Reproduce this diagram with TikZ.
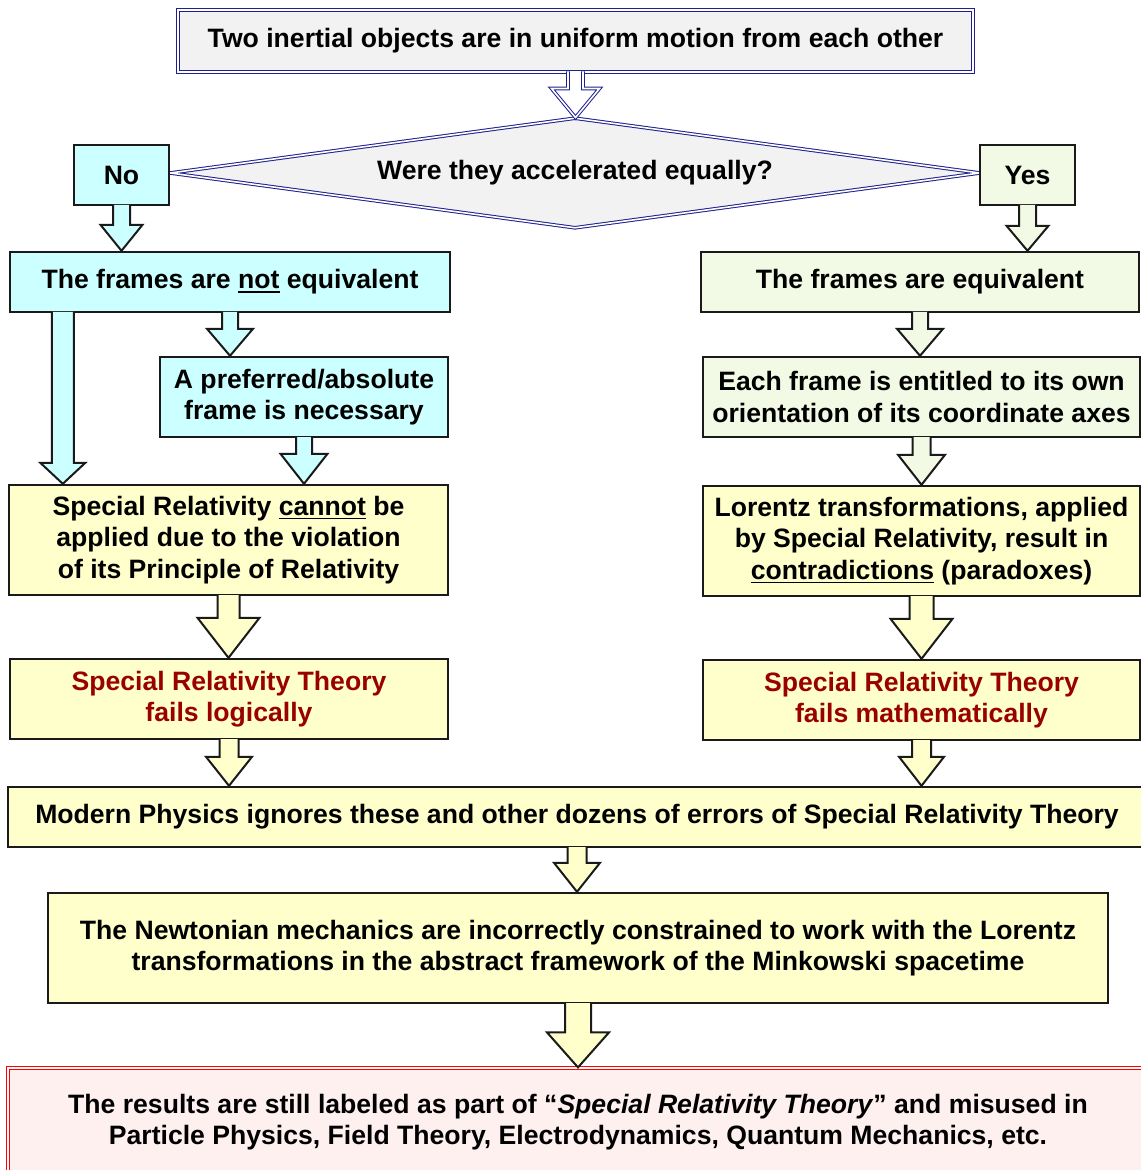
\documentclass[tikz,border=0pt]{standalone}
\usepackage{fontspec}
\setmainfont{Liberation Sans}
\usetikzlibrary{shapes.geometric,calc}

\definecolor{boxcyan}{HTML}{CCFFFF}
\definecolor{boxgreen}{HTML}{F2F9E4}
\definecolor{boxyellow}{HTML}{FFFFCC}
\definecolor{boxpink}{HTML}{FFF0F0}
\definecolor{boxgray}{HTML}{F2F2F2}
\definecolor{darkline}{HTML}{1A1A1A}
\definecolor{navyline}{HTML}{1F1F8F}
\definecolor{failred}{HTML}{990000}

\tikzset{
  txt/.style={align=center, inner sep=0pt, font=\bfseries\fontsize{13.3}{15.75}\selectfont},
  box/.style={txt, rectangle, draw=darkline, line width=1.2pt},
  navybox/.style={txt, draw=navyline, line width=0.5pt, double=white, double distance=0.8pt, fill=boxgray},
  redbox/.style={txt, rectangle, draw=red, line width=0.6pt, double=white, double distance=1pt, fill=boxpink},
  arrowline/.style={draw=darkline, line width=1pt, line join=miter},
  navyarrow/.style={draw=navyline, line width=0.5pt, double=white, double distance=0.8pt, fill=white},
}

% thick underline for single words
\newcommand{\thickul}[1]{\leavevmode\vtop{\hbox{#1}\kern1pt\hrule height 0.9pt}}

% block arrow: [style]{from}{to}{half shaft}{half head}{head length}
\newcommand{\blockarrow}[6][]{%
  \draw[#1] let \p1=(#2), \p2=(#3) in
    (\x1-#4,\y1+0.6pt) -- (\x1-#4,\y2+#6) -- (\x1-#5,\y2+#6) -- (\x1,\y2)
    -- (\x1+#5,\y2+#6) -- (\x1+#4,\y2+#6) -- (\x1+#4,\y1+0.6pt);}

\begin{document}
\begin{tikzpicture}[x=0.5pt,y=-0.5pt]
  \useasboundingbox (0,0) rectangle (1140,1170);

  % Start and question
  \node[navybox, minimum width=397.5pt, minimum height=31pt] (start) at (575.5,41)
    {Two inertial objects are in uniform motion from each other};
  \node[navybox, diamond, shape aspect=7.36, minimum width=405pt, minimum height=55pt] (quest) at (575,173)
    {Were they accelerated equally?};
  \node[box, fill=boxcyan, minimum width=47.5pt, minimum height=30pt] (no) at (121.5,175) {No};
  \node[box, fill=boxgreen, minimum width=47.5pt, minimum height=30pt] (yes) at (1027.5,175) {Yes};

  % Left branch
  \node[box, fill=boxcyan, minimum width=220pt, minimum height=30pt] (notequiv) at (230,282)
    {The frames are \thickul{not} equivalent};
  \node[box, fill=boxcyan, minimum width=144pt, minimum height=40pt] (preferred) at (304,397)
    {A preferred/absolute\\frame is necessary};
  \node[box, fill=boxyellow, minimum width=219.5pt, minimum height=55pt] (cannot) at (228.5,540)
    {Special Relativity \thickul{cannot} be\\applied due to the violation\\of its Principle of Relativity};
  \node[box, fill=boxyellow, minimum width=219pt, minimum height=40pt, text=failred] (faillogic) at (229,699)
    {Special Relativity Theory\\fails logically};

  % Right branch
  \node[box, fill=boxgreen, minimum width=219pt, minimum height=30pt] (equiv) at (920,282)
    {The frames are equivalent};
  \node[box, fill=boxgreen, minimum width=218.5pt, minimum height=40pt] (axes) at (921.5,397)
    {Each frame is entitled to its own\\orientation of its coordinate axes};
  \node[box, fill=boxyellow, minimum width=218.5pt, minimum height=55pt] (lorentz) at (921.5,541)
    {Lorentz transformations, applied\\by Special Relativity, result in\\\thickul{contradictions} (paradoxes)};
  \node[box, fill=boxyellow, minimum width=218.5pt, minimum height=40pt, text=failred] (failmath) at (921.5,700)
    {Special Relativity Theory\\fails mathematically};

  % Common part
  \node[box, fill=boxyellow, minimum width=569pt, minimum height=30pt] (modern) at (577,817)
    {Modern Physics ignores these and other dozens of errors of Special Relativity Theory};
  \node[box, fill=boxyellow, minimum width=530pt, minimum height=55pt] (newton) at (578,948)
    {The Newtonian mechanics are incorrectly constrained to work with the Lorentz\\transformations in the abstract framework of the Minkowski spacetime};
  \node[redbox, minimum width=570pt, minimum height=54pt] (results) at (578,1122)
    {The results are still labeled as part of “\textit{Special Relativity Theory}” and misused in\\Particle Physics, Field Theory, Electrodynamics, Quantum Mechanics, etc.};

  % Block arrows
  \coordinate (longtop) at ($(notequiv.south west)+(54,0)$);
  \blockarrow[navyarrow]{start.south}{quest.north}{3.75pt}{12pt}{14.5pt}
  \foreach \src/\dst/\sw/\hw/\hl/\col in {
      no.south/notequiv.north/4.25pt/10.5pt/13pt/boxcyan,
      yes.south/equiv.north/4.25pt/10.5pt/12.5pt/boxgreen,
      notequiv.south/preferred.north/4pt/11.5pt/13.5pt/boxcyan,
      longtop/cannot.north/5.5pt/11.25pt/10.5pt/boxcyan,
      preferred.south/cannot.north/4pt/11.75pt/15pt/boxcyan,
      equiv.south/axes.north/4pt/11.5pt/13.5pt/boxgreen,
      axes.south/lorentz.north/4.5pt/11.75pt/15pt/boxgreen,
      cannot.south/faillogic.north/5.5pt/15.5pt/20pt/boxyellow,
      lorentz.south/failmath.north/6pt/15.5pt/20pt/boxyellow,
      faillogic.south/modern.north/4.75pt/11.5pt/14.5pt/boxyellow,
      failmath.south/modern.north/4.75pt/11.25pt/14.5pt/boxyellow,
      modern.south/newton.north/4.75pt/11.5pt/14.5pt/boxyellow,
      newton.south/results.north/6.5pt/15.5pt/17.5pt/boxyellow}
    {\blockarrow[arrowline, fill=\col]{\src}{\dst}{\sw}{\hw}{\hl}}
\end{tikzpicture}
\end{document}
